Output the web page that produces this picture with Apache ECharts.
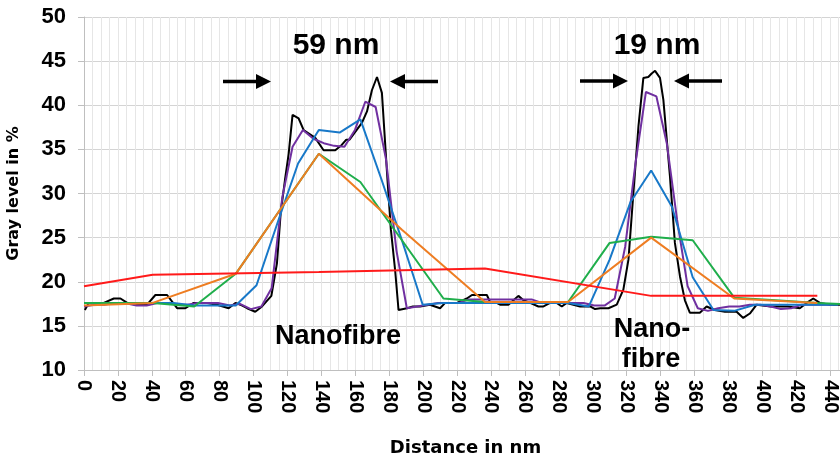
<!DOCTYPE html>
<html>
<head>
<meta charset="utf-8">
<script src="https://cdn.jsdelivr.net/npm/echarts@6/dist/echarts.min.js"></script>
<style>
  html, body { margin: 0; padding: 0; background: #fff; }
  #chart { width: 840px; height: 455px; }
</style>
</head>
<body>
<div id="chart"></div>
<script>
  // gray level profiles across the two nanofibres, [distance nm, gray level %]
  const blackLine = [
    [0.5,16.8],[2.8,17.6],[11.7,17.6],[17.6,18.1],[21.5,18.1],[25.5,17.6],[31.3,17.4],[37.2,17.4],
    [42.1,18.5],[49,18.5],[54.9,17.0],[59.8,17.0],[64.7,17.6],[72.6,17.6],[78.5,17.4],[85.3,17.0],
    [89.3,17.6],[92.2,17.4],[96.2,17.0],[101,16.6],[105,17.2],[110.5,18.4],[113.8,22.1],[116,27.8],
    [118.5,31.5],[120.7,34.5],[123,38.9],[126.6,38.5],[129.5,37.2],[136.4,36.3],[141.3,34.9],
    [148.2,34.9],[152,35.5],[154.7,36.1],[156.6,36.1],[163.9,38.0],[166.9,39.3],[169.8,41.7],
    [172.8,43.2],[175.7,41.4],[177.5,36],[179,31.5],[181,25.9],[183.5,21.3],[185.5,16.8],
    [190.5,17.0],[194,17.2],[198.3,17.2],[204,17.4],[210,17.0],[213,17.6],[220,17.6],[225.8,18.1],
    [228.8,18.5],[237.6,18.5],[239.5,17.7],[242.5,17.7],[245.4,17.4],[250.3,17.4],[253.3,17.9],
    [256.2,18.4],[259.2,17.9],[263.1,17.6],[268,17.2],[271,17.2],[274.9,17.6],[278.8,17.6],
    [281.8,17.2],[284.7,17.6],[288.6,17.4],[292.6,17.2],[298.5,17.2],[301.4,16.9],[304.5,17.0],
    [309.3,17.0],[314.2,17.4],[318.1,19.1],[321.1,22.5],[324,30.0],[327,37.6],[329.9,43.1],
    [332.8,43.2],[334.8,43.6],[336.8,43.9],[339.7,43.1],[341.7,40.6],[345.6,31.9],[348.5,24.4],
    [351.5,20.6],[354.4,17.9],[357.3,16.5],[363.2,16.5],[367.2,17.2],[372,16.8],[378,16.6],
    [384.9,16.6],[388.8,15.9],[392.7,16.4],[396.7,17.4],[405,17.2],[415,17.2],[422.2,17.0],
    [426.2,17.6],[430.1,18.1],[434,17.6],[440,17.4],[446,17.4]
  ];
  const purpleLine = [
    [0,17.2],[6,17.4],[12,17.4],[18,17.6],[24,17.6],[31,17.3],[37,17.3],[43,17.6],[49,17.6],
    [55,17.4],[61,17.4],[67,17.6],[73,17.6],[79,17.6],[86,17.3],[92,17.5],[98.4,16.9],[104.6,17.2],
    [110.7,19.3],[116.9,29.5],[123,35.3],[129.1,37.2],[135.3,36.2],[141.4,35.7],[147.5,35.4],
    [153.6,35.3],[159.8,37.2],[165.9,40.4],[172,39.8],[178.1,33.9],[184.3,23.5],[190.4,17.0],
    [196.5,17.2],[202.6,17.4],[208.8,17.6],[215,17.6],[221,17.6],[227,18.0],[233,18.0],[239.5,18.0],
    [245.6,18.0],[251.8,18.0],[258,18.0],[264,18.0],[270,17.6],[276,17.6],[282,17.6],[288.6,17.6],
    [294.7,17.6],[300.8,17.3],[307,17.3],[313,18.1],[319.2,24.0],[325.3,33.5],[331.4,41.5],
    [337.6,41.0],[343.7,35.7],[349.8,27.0],[356,19.5],[362,17.0],[368,16.7],[374,17.0],[380.5,17.2],
    [386.6,17.2],[392.7,17.4],[398.9,17.4],[405,17.2],[411,16.9],[417,17.0],[423.4,17.4],
    [429.5,17.4],[435.6,17.4],[441.8,17.4]
  ];
  const blueLine = [
    [0,17.6],[16,17.6],[28,17.6],[40.5,17.6],[52.75,17.6],[65,17.3],[77.25,17.3],[89.5,17.3],
    [101.75,19.6],[114,26.6],[126.25,33.4],[138.5,37.2],[150.75,36.9],[163,38.4],[175.25,31.7],
    [187.5,24.7],[199.75,17.4],[212,17.6],[224.25,17.6],[236.5,17.6],[248.75,17.6],[261,17.6],
    [273.25,17.6],[285.5,17.6],[297.75,17.2],[310,22.5],[322.25,29.0],[334.5,32.6],[346.75,28.5],
    [359,20.5],[371.25,16.8],[383.5,16.7],[395.75,17.4],[408,17.4],[420.25,17.4],[432.5,17.4],
    [444.75,17.4]
  ];
  const greenLine = [
    [0,17.6],[40.5,17.6],[65,17.2],[89.5,20.9],[114,27.7],[138.5,34.5],[163,31.3],[187.5,24.7],
    [212,18.1],[236.5,17.7],[261,17.7],[285.5,17.7],[310,24.4],[334.5,25.1],[359,24.7],
    [383.5,18.2],[408,17.9],[432.5,17.6],[457,17.4]
  ];
  const orangeLine = [
    [0,17.3],[40.5,17.6],[89.5,20.9],[138.5,34.5],[187.5,25.9],[236.5,17.7],[285.5,17.7],
    [334.5,25.0],[383.5,18.1],[432.5,17.6]
  ];
  const redLine = [
    [0,19.5],[40.5,20.8],[138.5,21.1],[236.5,21.5],[334.5,18.4],[432.5,18.4]
  ];

  const seriesNames = ['black', 'purple', 'blue', 'green', 'orange', 'red'];
  const seriesColors = ['#000000', '#7030a0', '#1878c8', '#1fae4b', '#ee7d22', '#ff1a1a'];
  const seriesData = [blackLine, purpleLine, blueLine, greenLine, orangeLine, redLine];

  const chart = echarts.init(document.getElementById('chart'));

  // arrow: shaft + triangle head, dir 1 = points right
  function arrow(tipX, y, dir) {
    const tail = tipX - dir * 48;
    const headBase = tipX - dir * 15;
    return [
      { type: 'line', z: 100, shape: { x1: tail, y1: y, x2: headBase, y2: y }, style: { stroke: '#000', lineWidth: 3.5 } },
      { type: 'polygon', z: 100, shape: { points: [[tipX, y], [headBase, y - 7.5], [headBase, y + 7.5]] }, style: { fill: '#000' } }
    ];
  }

  const boldText = (txt, x, y, size) => ({
    type: 'text', x: x, y: y, z: 100,
    style: { text: txt, fill: '#000', font: 'bold ' + size + 'px "Liberation Sans", Arial', align: 'center', verticalAlign: 'middle' }
  });

  let option = {
    animation: false,
    backgroundColor: '#fff',
    grid: { left: 84, right: -7, top: 17, bottom: 85, outerBoundsMode: 'none', containLabel: false },
    xAxis: {
      type: 'value', min: 0, max: 450, interval: 20,
      name: 'Distance in nm', nameLocation: 'middle', nameGap: 69,
      nameTextStyle: { fontFamily: 'DejaVu Sans', fontWeight: 'bold', fontSize: 18, color: '#000' },
      axisLine: { show: true, lineStyle: { color: '#bfbfbf', width: 1 } },
      axisTick: { show: true, length: 6, lineStyle: { color: '#bfbfbf' } },
      axisLabel: {
        rotate: -90, margin: 10, fontFamily: 'Liberation Sans', fontWeight: 'bold', fontSize: 20, color: '#000',
        showMaxLabel: false
      },
      splitLine: { show: true, lineStyle: { color: '#e6e6e6', width: 1 } },
      minorTick: { show: false, splitNumber: 4 },
      minorSplitLine: { show: true, lineStyle: { color: '#e6e6e6', width: 1 } }
    },
    yAxis: {
      type: 'value', min: 10, max: 50, interval: 5,
      name: 'Gray level in %', nameLocation: 'middle', nameGap: 62,
      nameTextStyle: { fontFamily: 'DejaVu Sans', fontWeight: 'bold', fontSize: 16, color: '#000' },
      axisLine: { show: true, lineStyle: { color: '#bfbfbf', width: 1 } },
      axisTick: { show: true, length: 6, lineStyle: { color: '#bfbfbf' } },
      axisLabel: { margin: 18, fontFamily: 'Liberation Sans', fontWeight: 'bold', fontSize: 22, color: '#000' },
      splitLine: { show: true, lineStyle: { color: '#d4d4d4', width: 1.2 } }
    },
    series: seriesData.map((d, i) => ({
      name: seriesNames[i],
      type: 'line',
      data: d,
      showSymbol: false,
      smooth: false,
      clip: true,
      lineStyle: { color: seriesColors[i], width: 2 },
      itemStyle: { color: seriesColors[i] },
      z: 2 + i
    })),
    graphic: [
      boldText('59 nm', 336, 46, 30),
      boldText('19 nm', 657, 46, 30),
      boldText('Nanofibre', 338, 337, 27),
      boldText('Nano-', 652, 330, 27),
      boldText('fibre', 651, 360, 27),
      ...arrow(271, 81.5, 1),
      ...arrow(390, 81.5, -1),
      ...arrow(628, 81, 1),
      ...arrow(674, 81, -1)
    ]
  };

  chart.setOption(option);
</script>
</body>
</html>
